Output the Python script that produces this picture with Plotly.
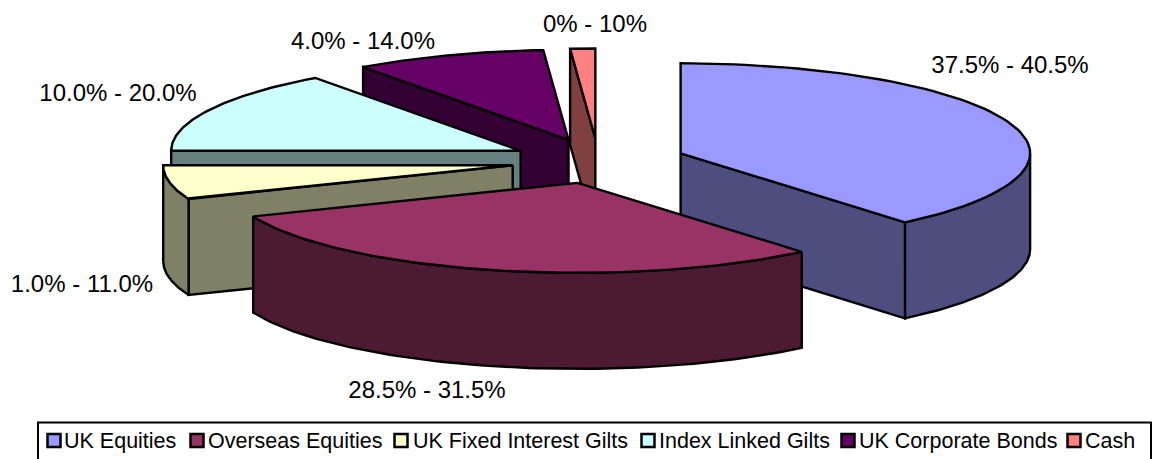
import numpy as np
import plotly.graph_objects as go

# Data
categories = ["UK Equities", "Overseas Equities", "UK Fixed Interest Gilts",
              "Index Linked Gilts", "UK Corporate Bonds", "Cash"]
values = [38.9, 30, 6.1, 15, 8.85, 1.15]
range_labels = ["37.5% - 40.5%", "28.5% - 31.5%", "1.0% - 11.0%",
                "10.0% - 20.0%", "4.0% - 14.0%", "0% - 10%"]
top_colors = ["#9999FF", "#993366", "#FFFFCC", "#CCFFFF", "#660066", "#FF8080"]
side_colors = ["#4D4D80", "#4D1A33", "#808066", "#668080", "#330033", "#804040"]

# Layout / projection of the exploded 3-D pie (pixel-valued axes)
W, H = 1156, 459
CX, CY, RX, RY, DEPTH, EXPLODE = 598.5, 161, 349.5, 90, 96, 0.25
DRAW_ORDER = [4, 5, 3, 2, 0, 1]
LABEL_XY = [(1010, 67), (427, 392), (82, 286), (118, 95), (363, 43), (595, 26)]
SWATCH_X = [54, 197, 401, 648, 848, 1074]
TEXT_X = [62, 206, 411, 657, 857, 1083]
LEGEND_Y = 441
FONT = "Liberation Sans, Arial, sans-serif"
LABEL_SIZE = 24
LEGEND_SIZE = 21.5
EDGE = 2.4


def rim(cx, cy, a, b, n=80):
    t = np.radians(np.linspace(a, b, n))
    return cx + RX * np.sin(t), cy - RY * np.cos(t)


def poly(fig, xs, ys, color, name):
    fig.add_trace(go.Scatter(
        x=np.append(xs, xs[0]), y=np.append(ys, ys[0]), mode="lines",
        fill="toself", fillcolor=color, line=dict(color="black", width=EDGE),
        name=name, showlegend=False, hoverinfo="name"))


fig = go.Figure()

stops = np.concatenate([[0], np.cumsum(values)]) * 360 / sum(values)
for i in DRAW_ORDER:
    a, b = stops[i], stops[i + 1]
    mid = np.radians((a + b) / 2)
    cx = CX + EXPLODE * RX * np.sin(mid)
    cy = CY - EXPLODE * RY * np.cos(mid)
    name = categories[i]
    # visible radial wall
    for ang, visible in ((a, np.sin(np.radians(a)) < -1e-9),
                         (b, np.sin(np.radians(b)) > 1e-9)):
        if visible:
            ex, ey = rim(cx, cy, ang, ang, 1)
            poly(fig, np.array([cx, ex[0], ex[0], cx]),
                 np.array([cy, ey[0], ey[0] + DEPTH, cy + DEPTH]),
                 side_colors[i], name)
    # visible outer rim
    lo, hi = max(a, 90), min(b, 270)
    if hi > lo:
        rx_, ry_ = rim(cx, cy, lo, hi)
        poly(fig, np.concatenate([rx_, rx_[::-1]]),
             np.concatenate([ry_, ry_[::-1] + DEPTH]), side_colors[i], name)
    # top face
    tx, ty = rim(cx, cy, a, b)
    poly(fig, np.concatenate([[cx], tx]), np.concatenate([[cy], ty]),
         top_colors[i], name)

# Range labels
fig.add_trace(go.Scatter(
    x=[p[0] for p in LABEL_XY], y=[p[1] for p in LABEL_XY], mode="text",
    text=range_labels, textposition="middle center",
    textfont=dict(family=FONT, size=LABEL_SIZE, color="black"),
    showlegend=False, hoverinfo="skip"))

# Legend row
fig.add_shape(type="rect", x0=38, x1=1151, y0=422.5, y1=480,
              line=dict(color="black", width=2), fillcolor="white", layer="below")
for x, tx_, c, col in zip(SWATCH_X, TEXT_X, categories, top_colors):
    fig.add_trace(go.Scatter(
        x=[x], y=[440.5], mode="markers", showlegend=False, hoverinfo="skip",
        marker=dict(symbol="square", size=13, color=col,
                    line=dict(color="black", width=2.5))))
    fig.add_annotation(x=tx_, y=LEGEND_Y, text=c, showarrow=False,
                       xanchor="left", yanchor="middle", xref="x", yref="y",
                       font=dict(family=FONT, size=LEGEND_SIZE, color="black"))

fig.update_layout(
    width=W, height=H, margin=dict(l=0, r=0, t=0, b=0),
    paper_bgcolor="white", plot_bgcolor="white", showlegend=False,
    xaxis=dict(range=[0, W], visible=False, fixedrange=True),
    yaxis=dict(range=[H, 0], visible=False, fixedrange=True),
)
fig.write_html("out.html", config={"displayModeBar": False},
               post_script="document.body.style.margin='0';document.body.style.overflow='hidden';")
